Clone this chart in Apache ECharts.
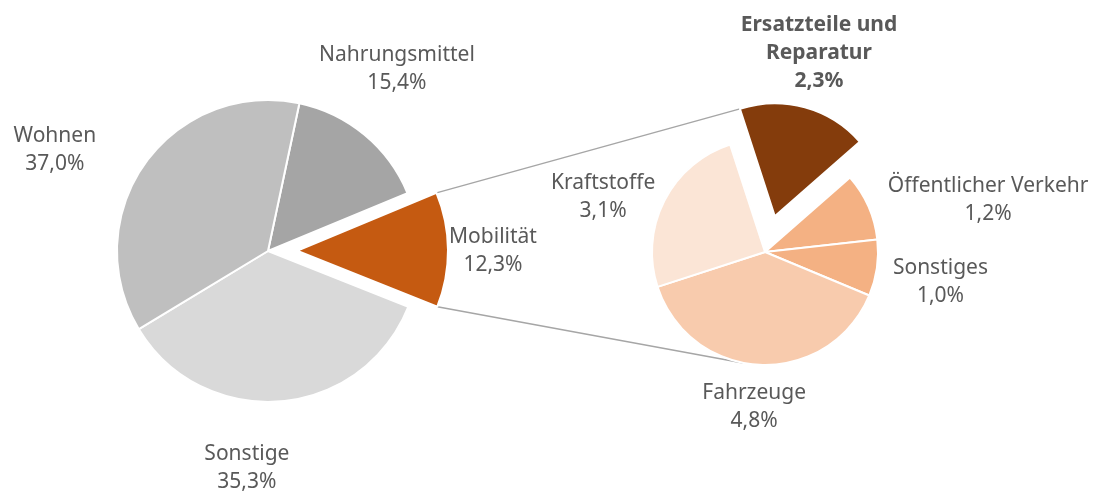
<!DOCTYPE html>
<html lang="de">
<head>
<meta charset="utf-8">
<title>Ausgaben - Mobilität</title>
<script src="https://cdn.jsdelivr.net/npm/echarts@6/dist/echarts.min.js"></script>
<style>
  html, body { margin: 0; background: #fff; }
  #chart { width: 1096px; height: 493px; }
</style>
</head>
<body>
<div id="chart"></div>
<script>
// data
var mainNames  = ['Nahrungsmittel', 'Mobilität', 'Sonstige', 'Wohnen'];
var mainValues = [15.4, 12.3, 35.3, 37.0];
var subNames   = ['Ersatzteile und\nReparatur', 'Öffentlicher Verkehr', 'Sonstiges', 'Fahrzeuge', 'Kraftstoffe'];
var subValues  = [2.3, 1.2, 1.0, 4.8, 3.1];

// look
var mainColors = ['#a5a5a5', '#c55a11', '#d9d9d9', '#bfbfbf'];
var subColors  = ['#843c0c', '#f4b183', '#f4b183', '#f8cbad', '#fbe5d6'];
var L = { cx: 268, cy: 251, r: 151, start: 78,  offset: 29, pick: 1 };
var R = { cx: 765, cy: 252, r: 113, start: 108, offset: 37, pick: 0 };
// label placement: [angle shift from slice middle (deg), distance from centre]
var mainLabelPos = [[-4.4, 223], [0.4, 225], [10.3, 218], [-10, 236]];
var subLabelPos  = [[-0.2, 206], [10.8, 229], [1.6, 178], [1.7, 155], [-8.2, 171]];
var NONE = 'rgba(0,0,0,0)';

var rad = Math.PI / 180;
function pt(cx, cy, r, a) { return [cx + r * Math.sin(a * rad), cy - r * Math.cos(a * rad)]; }
// slice angles, clockwise from 12 o'clock
function slices(values, start) {
  var sum = values.reduce(function (s, v) { return s + v; }, 0);
  var a = 90 - start, out = [];
  values.forEach(function (v) {
    var b = a + v / sum * 360;
    out.push({ a0: a, a1: b, mid: (a + b) / 2 });
    a = b;
  });
  return out;
}
var mainSl = slices(mainValues, L.start);
var subSl  = slices(subValues, R.start);

function fmt(v) { return v.toFixed(1).replace('.', ',') + '%'; }

// pulled = false: the pie with labels, picked slice left empty
// pulled = true : same pie moved out along the picked slice, only that slice drawn
function pieSeries(names, values, colors, g, sl, pos, pulled) {
  var c = pulled ? pt(g.cx, g.cy, g.offset, sl[g.pick].mid) : [g.cx, g.cy];
  return {
    type: 'pie',
    center: c,
    radius: g.r,
    startAngle: g.start,
    clockwise: true,
    avoidLabelOverlap: false,
    animation: false,
    silent: true,
    emphasis: { disabled: true },
    itemStyle: { borderColor: '#fff', borderWidth: 2 },
    label: {
      show: !pulled,
      position: 'outside',
      color: '#595959',
      fontFamily: 'Noto Sans',
      fontSize: 21,
      lineHeight: 28,
      formatter: function (p) { return p.name + '\n' + fmt(p.value); }
    },
    labelLine: { show: false },
    labelLayout: function (p) {
      var s = sl[p.dataIndex], q = pos[p.dataIndex];
      var xy = pt(g.cx, g.cy, q[1], s.mid + q[0]);
      return { x: xy[0], y: xy[1], align: 'center', verticalAlign: 'middle' };
    },
    data: names.map(function (n, i) {
      var show = pulled ? i === g.pick : i !== g.pick;
      return {
        name: n, value: values[i],
        itemStyle: show ? { color: colors[i] } : { color: NONE, borderWidth: 0 }
      };
    })
  };
}

var series = [
  pieSeries(mainNames, mainValues, mainColors, L, mainSl, mainLabelPos, false),
  pieSeries(mainNames, mainValues, mainColors, L, mainSl, mainLabelPos, true),
  pieSeries(subNames, subValues, subColors, R, subSl, subLabelPos, false),
  pieSeries(subNames, subValues, subColors, R, subSl, subLabelPos, true)
];
series[2].data[0].label = { fontWeight: 'bold' };

// connector lines from the pulled-out Mobilität slice to the second pie
var ms = mainSl[L.pick];
var mc = pt(L.cx, L.cy, L.offset, ms.mid);
var pTop = pt(mc[0], mc[1], L.r, ms.a0);
var pBot = pt(mc[0], mc[1], L.r, ms.a1);
var es = subSl[R.pick];
var ec = pt(R.cx, R.cy, R.offset, es.mid);
var qTop = pt(ec[0], ec[1], R.r, es.a0);
// lower tangent to the second pie
var vx = R.cx - pBot[0], vy = R.cy - pBot[1];
var d = Math.sqrt(vx * vx + vy * vy);
var psi = Math.atan2(vy, vx) + Math.asin(R.r / d);
var t = Math.sqrt(d * d - R.r * R.r);
var qBot = [pBot[0] + t * Math.cos(psi), pBot[1] + t * Math.sin(psi)];

var chart = echarts.init(document.getElementById('chart'));
chart.setOption({
  backgroundColor: '#fff',
  graphic: [
    { type: 'line', z: 0, shape: { x1: pTop[0], y1: pTop[1], x2: qTop[0], y2: qTop[1] },
      style: { stroke: '#a6a6a6', lineWidth: 1.5 } },
    { type: 'line', z: 0, shape: { x1: pBot[0], y1: pBot[1], x2: qBot[0], y2: qBot[1] },
      style: { stroke: '#a6a6a6', lineWidth: 1.5 } }
  ],
  series: series
});
</script>
</body>
</html>
